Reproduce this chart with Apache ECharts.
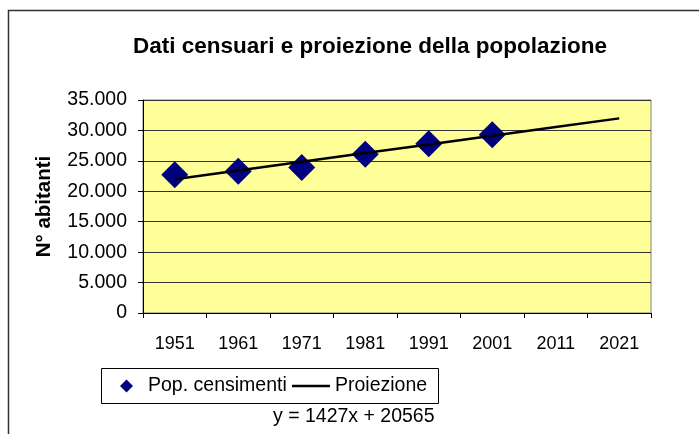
<!DOCTYPE html>
<html>
<head>
<meta charset="utf-8">
<script src="https://cdn.jsdelivr.net/npm/echarts@6/dist/echarts.min.js"></script>
<style>
  html, body { margin: 0; padding: 0; background: #fff; }
  #chart { width: 699px; height: 434px; }
</style>
</head>
<body>
<div id="chart"></div>
<script>
// dati
const anni = ['1951', '1961', '1971', '1981', '1991', '2001', '2011', '2021'];
const censimenti = [22700, 23300, 23900, 26100, 27800, 29300];
const proiezione = [21992, 23419, 24846, 26273, 27700, 29127, 30554, 31981];
const equazione = 'y = 1427x + 20565';

const font = 'Liberation Sans, Arial, sans-serif';

// separatore delle migliaia con il punto
function fmt(v) {
  return String(v).replace(/\B(?=(\d{3})+(?!\d))/g, '.');
}

const chart = echarts.init(document.getElementById('chart'), null, { renderer: 'canvas' });

const legendText = { fontFamily: font, fontSize: 19.5, color: '#000' };

const option = {
  backgroundColor: '#fff',
  animation: false,
  title: [
    {
      text: 'Dati censuari e proiezione della popolazione',
      left: 365,
      top: 30,
      textAlign: 'center',
      textStyle: { fontFamily: font, fontSize: 22.5, fontWeight: 'bold', color: '#000' }
    },
    {
      text: equazione,
      left: 268,
      top: 402,
      textStyle: { fontFamily: font, fontSize: 19.5, fontWeight: 'normal', color: '#000' }
    }
  ],
  // due legende dentro un unico riquadro (disegnato sotto)
  legend: [
    {
      left: 120,
      top: 376,
      padding: 0,
      itemWidth: 13,
      itemHeight: 13,
      textStyle: Object.assign({ padding: [0, 0, 0, 10] }, legendText),
      data: [{ name: 'Pop. censimenti', icon: 'diamond' }]
    },
    {
      left: 292,
      top: 376,
      padding: 0,
      itemWidth: 38,
      itemHeight: 2.5,
      textStyle: legendText,
      data: [{ name: 'Proiezione', icon: 'rect' }]
    }
  ],
  grid: {
    left: 143,
    right: 48,
    top: 100,
    bottom: 121,
    show: true,
    backgroundColor: '#FFFF99',
    borderColor: '#808080',
    borderWidth: 1
  },
  xAxis: {
    type: 'category',
    data: anni,
    boundaryGap: true,
    axisLine: { lineStyle: { color: '#000', width: 1 } },
    axisTick: { show: true, length: 5, lineStyle: { color: '#000' } },
    axisLabel: { margin: 22, fontFamily: font, fontSize: 18, color: '#000' },
    splitLine: { show: false }
  },
  yAxis: {
    type: 'value',
    min: 0,
    max: 35000,
    interval: 5000,
    name: 'N° abitanti',
    nameLocation: 'middle',
    nameGap: 88,
    nameTextStyle: { fontFamily: font, fontSize: 20.5, fontWeight: 'bold', color: '#000' },
    axisLine: { show: true, lineStyle: { color: '#000', width: 1 } },
    axisTick: { show: true, length: 5, lineStyle: { color: '#000' } },
    axisLabel: {
      margin: 16,
      fontFamily: font,
      fontSize: 19.5,
      color: '#000',
      formatter: function (v) { return fmt(v); }
    },
    splitLine: { show: true, lineStyle: { color: '#333', width: 1 } }
  },
  series: [
    {
      name: 'Pop. censimenti',
      type: 'scatter',
      symbol: 'diamond',
      symbolSize: 27,
      itemStyle: { color: '#000080', opacity: 1 },
      data: censimenti,
      z: 2
    },
    {
      name: 'Proiezione',
      type: 'line',
      symbol: 'none',
      lineStyle: { color: '#000', width: 2.5 },
      itemStyle: { color: '#000' },
      data: proiezione,
      z: 3
    }
  ],
  graphic: [
    {
      type: 'rect',
      shape: { x: 8.5, y: 10.5, width: 800, height: 600 },
      style: { fill: null, stroke: '#333', lineWidth: 1.5 },
      silent: true,
      z: 10
    },
    {
      type: 'rect',
      shape: { x: 101.5, y: 368.5, width: 337, height: 35 },
      style: { fill: '#fff', stroke: '#000', lineWidth: 1 },
      silent: true,
      z: -1
    }
  ]
};

chart.setOption(option);
</script>
</body>
</html>
